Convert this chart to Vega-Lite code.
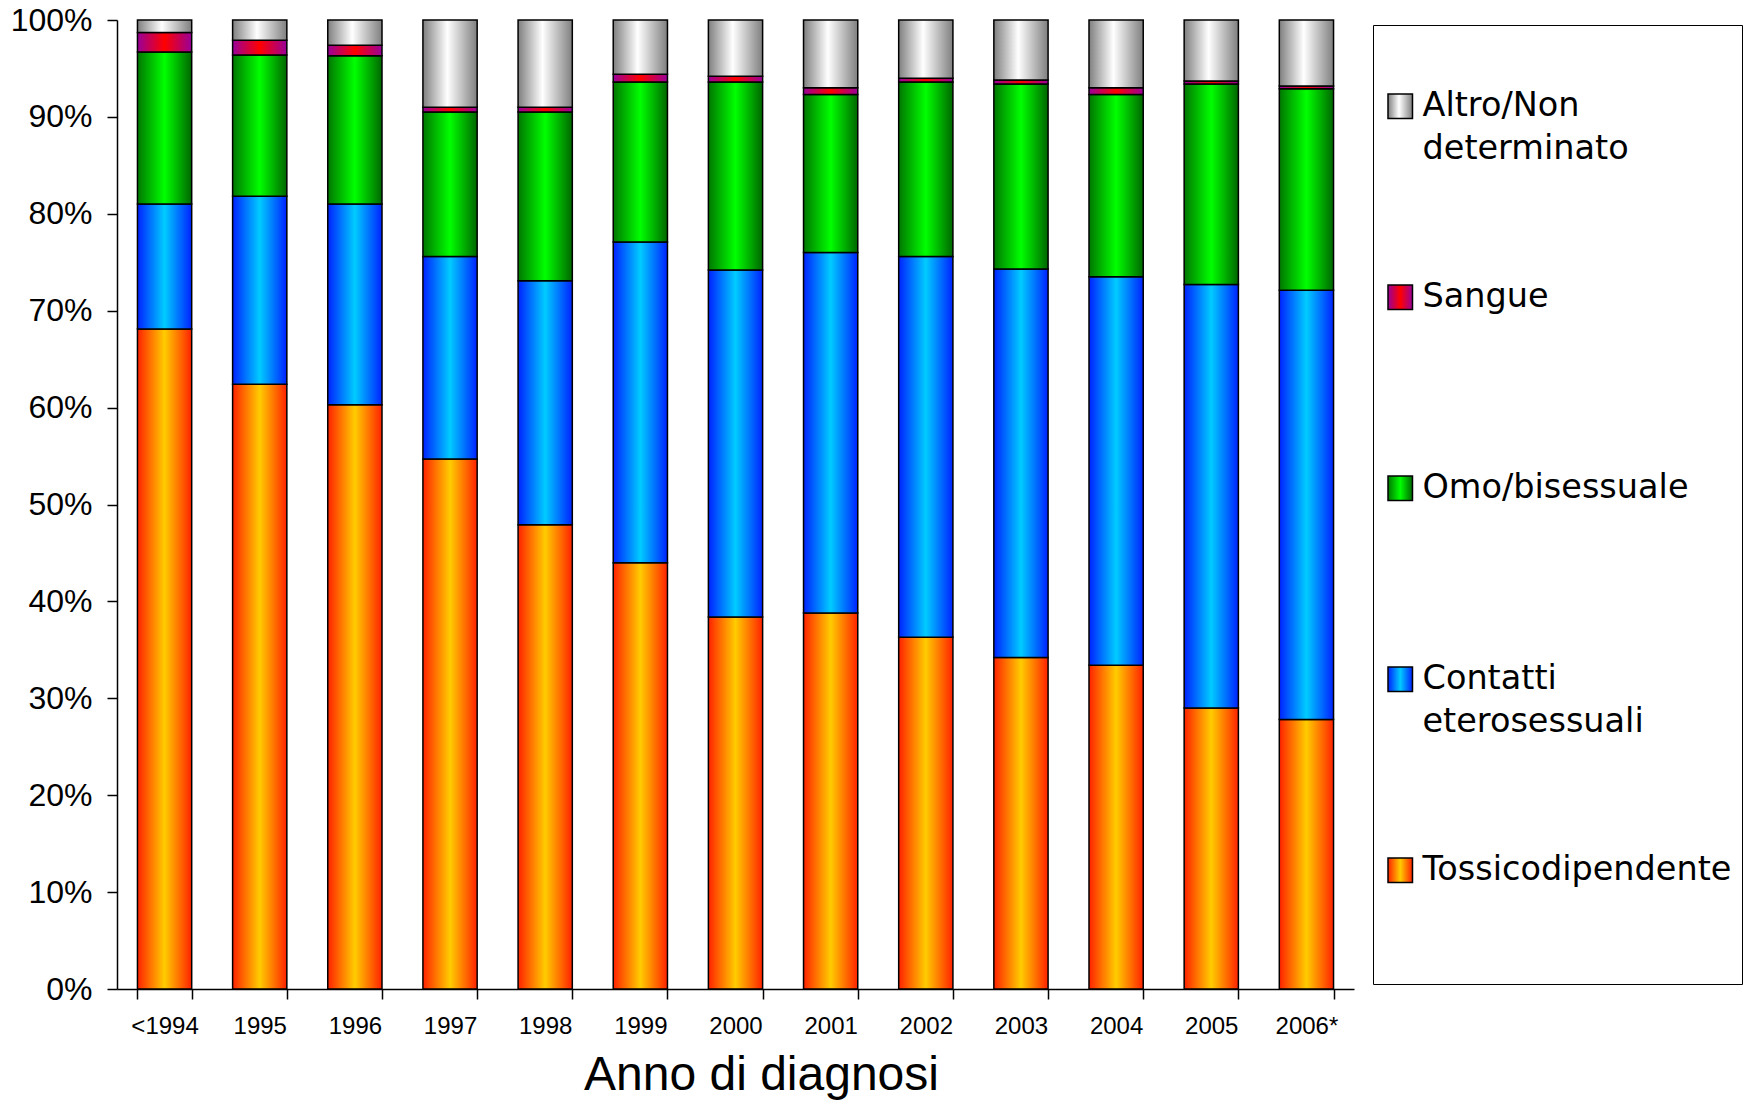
{
  "$schema": "https://vega.github.io/schema/vega-lite/v6.json",
  "width": 1237,
  "height": 969,
  "autosize": "none",
  "padding": {"left": 117, "top": 20, "right": 393, "bottom": 111},
  "background": "white",
  "config": {"view": {"stroke": null}, "font": "Liberation Sans"},
  "data": {"values": [
    {"anno":"<1994","cat":"Tossicodipendente","v":68.1,"o":1},
    {"anno":"<1994","cat":"Contatti eterosessuali","v":12.9,"o":2},
    {"anno":"<1994","cat":"Omo/bisessuale","v":15.7,"o":3},
    {"anno":"<1994","cat":"Sangue","v":2.0,"o":4},
    {"anno":"<1994","cat":"Altro/Non determinato","v":1.3,"o":5},
    {"anno":"1995","cat":"Tossicodipendente","v":62.4,"o":1},
    {"anno":"1995","cat":"Contatti eterosessuali","v":19.4,"o":2},
    {"anno":"1995","cat":"Omo/bisessuale","v":14.6,"o":3},
    {"anno":"1995","cat":"Sangue","v":1.5,"o":4},
    {"anno":"1995","cat":"Altro/Non determinato","v":2.1,"o":5},
    {"anno":"1996","cat":"Tossicodipendente","v":60.3,"o":1},
    {"anno":"1996","cat":"Contatti eterosessuali","v":20.7,"o":2},
    {"anno":"1996","cat":"Omo/bisessuale","v":15.3,"o":3},
    {"anno":"1996","cat":"Sangue","v":1.1,"o":4},
    {"anno":"1996","cat":"Altro/Non determinato","v":2.6,"o":5},
    {"anno":"1997","cat":"Tossicodipendente","v":54.7,"o":1},
    {"anno":"1997","cat":"Contatti eterosessuali","v":20.9,"o":2},
    {"anno":"1997","cat":"Omo/bisessuale","v":14.9,"o":3},
    {"anno":"1997","cat":"Sangue","v":0.5,"o":4},
    {"anno":"1997","cat":"Altro/Non determinato","v":9.0,"o":5},
    {"anno":"1998","cat":"Tossicodipendente","v":47.9,"o":1},
    {"anno":"1998","cat":"Contatti eterosessuali","v":25.2,"o":2},
    {"anno":"1998","cat":"Omo/bisessuale","v":17.4,"o":3},
    {"anno":"1998","cat":"Sangue","v":0.5,"o":4},
    {"anno":"1998","cat":"Altro/Non determinato","v":9.0,"o":5},
    {"anno":"1999","cat":"Tossicodipendente","v":44.0,"o":1},
    {"anno":"1999","cat":"Contatti eterosessuali","v":33.1,"o":2},
    {"anno":"1999","cat":"Omo/bisessuale","v":16.5,"o":3},
    {"anno":"1999","cat":"Sangue","v":0.8,"o":4},
    {"anno":"1999","cat":"Altro/Non determinato","v":5.6,"o":5},
    {"anno":"2000","cat":"Tossicodipendente","v":38.4,"o":1},
    {"anno":"2000","cat":"Contatti eterosessuali","v":35.8,"o":2},
    {"anno":"2000","cat":"Omo/bisessuale","v":19.4,"o":3},
    {"anno":"2000","cat":"Sangue","v":0.6,"o":4},
    {"anno":"2000","cat":"Altro/Non determinato","v":5.8,"o":5},
    {"anno":"2001","cat":"Tossicodipendente","v":38.8,"o":1},
    {"anno":"2001","cat":"Contatti eterosessuali","v":37.2,"o":2},
    {"anno":"2001","cat":"Omo/bisessuale","v":16.3,"o":3},
    {"anno":"2001","cat":"Sangue","v":0.7,"o":4},
    {"anno":"2001","cat":"Altro/Non determinato","v":7.0,"o":5},
    {"anno":"2002","cat":"Tossicodipendente","v":36.3,"o":1},
    {"anno":"2002","cat":"Contatti eterosessuali","v":39.3,"o":2},
    {"anno":"2002","cat":"Omo/bisessuale","v":18.0,"o":3},
    {"anno":"2002","cat":"Sangue","v":0.4,"o":4},
    {"anno":"2002","cat":"Altro/Non determinato","v":6.0,"o":5},
    {"anno":"2003","cat":"Tossicodipendente","v":34.2,"o":1},
    {"anno":"2003","cat":"Contatti eterosessuali","v":40.1,"o":2},
    {"anno":"2003","cat":"Omo/bisessuale","v":19.1,"o":3},
    {"anno":"2003","cat":"Sangue","v":0.4,"o":4},
    {"anno":"2003","cat":"Altro/Non determinato","v":6.2,"o":5},
    {"anno":"2004","cat":"Tossicodipendente","v":33.4,"o":1},
    {"anno":"2004","cat":"Contatti eterosessuali","v":40.1,"o":2},
    {"anno":"2004","cat":"Omo/bisessuale","v":18.8,"o":3},
    {"anno":"2004","cat":"Sangue","v":0.7,"o":4},
    {"anno":"2004","cat":"Altro/Non determinato","v":7.0,"o":5},
    {"anno":"2005","cat":"Tossicodipendente","v":29.0,"o":1},
    {"anno":"2005","cat":"Contatti eterosessuali","v":43.7,"o":2},
    {"anno":"2005","cat":"Omo/bisessuale","v":20.7,"o":3},
    {"anno":"2005","cat":"Sangue","v":0.3,"o":4},
    {"anno":"2005","cat":"Altro/Non determinato","v":6.3,"o":5},
    {"anno":"2006*","cat":"Tossicodipendente","v":27.8,"o":1},
    {"anno":"2006*","cat":"Contatti eterosessuali","v":44.3,"o":2},
    {"anno":"2006*","cat":"Omo/bisessuale","v":20.8,"o":3},
    {"anno":"2006*","cat":"Sangue","v":0.3,"o":4},
    {"anno":"2006*","cat":"Altro/Non determinato","v":6.8,"o":5}
  ]},
  "mark": {"type": "bar", "stroke": "black", "strokeWidth": 1.5},
  "encoding": {
    "x": {
      "field": "anno", "type": "nominal", "sort": null,
      "scale": {"paddingInner": 0.43, "paddingOuter": 0.215},
      "axis": {
        "title": "Anno di diagnosi", "titleFontSize": 48, "titleFontWeight": "normal",
        "titleColor": "black", "titlePadding": 13, "titleX": 644,
        "labelAngle": 0, "labelFontSize": 24, "labelColor": "black", "labelPadding": 15,
        "tickBand": "extent", "tickSize": 10, "tickColor": "black", "tickWidth": 1.5,
        "domainColor": "black", "domainWidth": 1.5
      }
    },
    "y": {
      "field": "v", "type": "quantitative", "stack": "normalize",
      "scale": {"domain": [0, 1]},
      "axis": {
        "title": null, "format": ".0%", "values": [0,0.1,0.2,0.3,0.4,0.5,0.6,0.7,0.8,0.9,1],
        "grid": false, "labelFontSize": 32, "labelColor": "black", "labelPadding": 15,
        "tickSize": 10, "tickColor": "black", "tickWidth": 1.5,
        "domainColor": "black", "domainWidth": 1.5
      }
    },
    "order": {"field": "o", "type": "quantitative", "sort": "ascending"},
    "color": {
      "field": "cat", "type": "nominal",
      "scale": {
        "domain": ["Altro/Non determinato", "Sangue", "Omo/bisessuale", "Contatti eterosessuali", "Tossicodipendente"],
        "range": [
          {"expr": "{gradient:'linear',x1:0,y1:0,x2:1,y2:0,stops:[{offset:0,color:'#7f7f7f'},{offset:0.45,color:'#ffffff'},{offset:1,color:'#7f7f7f'}]}"},
          {"expr": "{gradient:'linear',x1:0,y1:0,x2:1,y2:0,stops:[{offset:0,color:'#990099'},{offset:0.5,color:'#ff0000'},{offset:1,color:'#990099'}]}"},
          {"expr": "{gradient:'linear',x1:0,y1:0,x2:1,y2:0,stops:[{offset:0,color:'#007700'},{offset:0.5,color:'#00ff00'},{offset:1,color:'#006600'}]}"},
          {"expr": "{gradient:'linear',x1:0,y1:0,x2:1,y2:0,stops:[{offset:0,color:'#0022ff'},{offset:0.5,color:'#00ccff'},{offset:1,color:'#0022ff'}]}"},
          {"expr": "{gradient:'linear',x1:0,y1:0,x2:1,y2:0,stops:[{offset:0,color:'#ff2200'},{offset:0.5,color:'#ffcc00'},{offset:1,color:'#ff2200'}]}"}
        ]
      },
      "legend": {
        "orient": "none", "legendX": 1256, "legendY": 5,
        "title": " ", "titleFontSize": 20, "titlePadding": 34,
        "strokeColor": "black", "fillColor": "white", "padding": 10.5,
        "symbolType": "square", "symbolSize": 600, "symbolStrokeColor": "black", "symbolStrokeWidth": 1.5,
        "labelFont": "DejaVu Sans", "labelFontSize": 33.5, "labelColor": "black", "labelOffset": 5.5, "labelLimit": 400,
        "rowPadding": 113,
        "labelExpr": "datum.label == 'Altro/Non determinato' ? ['Altro/Non','determinato'] : datum.label == 'Contatti eterosessuali' ? ['Contatti','eterosessuali'] : datum.label == 'Tossicodipendente' ? [datum.label, '', ''] : [datum.label, '']",
        "encode": {"labels": {"update": {"lineHeight": {"value": 43}}}}
      }
    }
  }
}
